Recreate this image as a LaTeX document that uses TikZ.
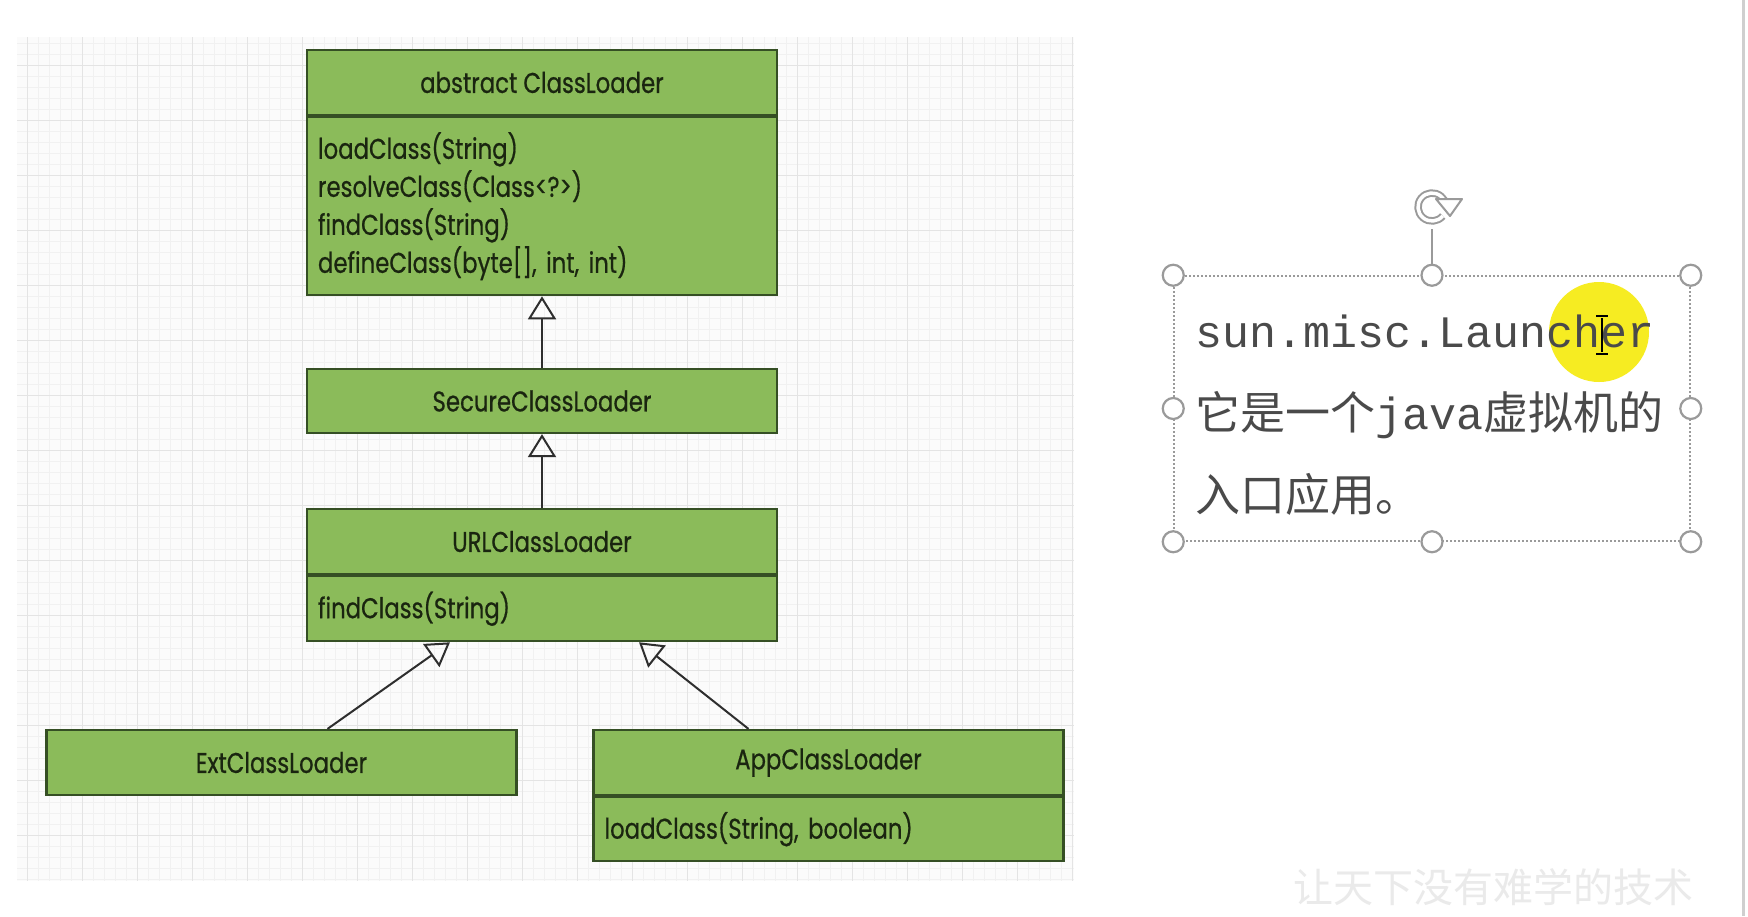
\documentclass[tikz,border=0pt]{standalone}
\usepackage{fontspec}
\usetikzlibrary{arrows.meta}

\newfontfamily\umlfont[FakeStretch=0.8, FakeBold=0.6]{Poppins}
\newfontfamily\lnchfont{Liberation Mono}
\newfontfamily\cjk{Noto Sans CJK SC}

\definecolor{umlgreen}{HTML}{8BBB5A}
\definecolor{umlline}{HTML}{354F24}
\definecolor{umltext}{HTML}{1A2510}
\definecolor{arrowgray}{HTML}{2E2E2E}
\definecolor{gridbg}{HTML}{FBFBFB}
\definecolor{gridminor}{HTML}{F1F1F1}
\definecolor{gridmajor}{HTML}{E4E4E4}
\definecolor{handlegray}{HTML}{9A9A9A}
\definecolor{hlyellow}{HTML}{F6EC22}
\definecolor{lnchtext}{HTML}{4A4A4A}
\definecolor{wmgray}{HTML}{EAEAEA}
\definecolor{edgegray}{HTML}{CFCFCF}

\begin{document}
\begin{tikzpicture}[x=1pt, y=-1pt,
  classbox/.style={draw=umlline, fill=umlgreen, line width=2.2pt, minimum width=470pt,
    minimum height=65pt, inner sep=0pt, text=umltext, font=\umlfont\fontsize{28.5}{38}\selectfont},
  members/.style={classbox, align=left, text width=448pt},
  inherit/.style={draw=arrowgray, line width=2pt, -{Triangle[open, length=23pt, width=28pt]}},
  handle/.style={circle, draw=handlegray, fill=white, line width=2.2pt, minimum size=21pt, inner sep=0pt}]

  \useasboundingbox (0,0) rectangle (1748,916);
  \fill[white] (0,0) rectangle (1748,916);

  % grid paper
  \fill[gridbg] (17,37) rectangle (1074,881);
  \begin{scope}
    \clip (17,37) rectangle (1074,881);
    \foreach \x in {16,27,...,1080} \draw[gridminor, line width=0.8pt] (\x,37) -- (\x,881);
    \foreach \y in {43,54,...,890} \draw[gridminor, line width=0.8pt] (17,\y) -- (1074,\y);
    \foreach \x in {27,82,...,1080} \draw[gridmajor, line width=1pt] (\x,37) -- (\x,881);
    \foreach \y in {65,120,...,890} \draw[gridmajor, line width=1pt] (17,\y) -- (1074,\y);
  \end{scope}

  % classes
  \node[classbox] (clhead) at (542,82.5) {abstract ClassLoader};
  \node[members, minimum height=178pt, anchor=north] (clbody) at (clhead.south)
    {loadClass(String)\\resolveClass(Class<?>)\\findClass(String)\\defineClass(byte[], int, int)};
  \node[classbox, minimum height=64pt] (secure) at (542,401) {SecureClassLoader};
  \node[classbox] (urlhead) at (542,541.5) {URLClassLoader};
  \node[members, anchor=north] (urlbody) at (urlhead.south) {findClass(String)};
  \node[classbox] (ext) at (281.5,762.5) {ExtClassLoader};
  \node[classbox] (apphead) at (828.5,762.5) {AppClassLoader};
  \node[members, minimum height=64pt, anchor=north] (appbody) at (apphead.south) {loadClass(String, boolean)};

  \draw[inherit] (secure.north) -- (clbody.south);
  \draw[inherit] (urlhead.north) -- (secure.south);
  \draw[inherit] ([xshift=46pt]ext.north) -- ([xshift=-92pt]urlbody.south);
  \draw[inherit] ([xshift=-80pt]apphead.north) -- ([xshift=97pt]urlbody.south);

  % text box with its handles
  \fill[hlyellow] (1599,332) circle[radius=50pt];
  \node[draw=handlegray, line width=1.5pt, dash pattern=on 2pt off 2pt,
    minimum width=516pt, minimum height=265pt] (tbox) at (1432,408.5) {};
  \node[anchor=base west, font=\lnchfont\fontsize{45}{45}\selectfont, text=lnchtext, inner sep=0pt]
    (line1) at (1195,347) {sun.misc.Launcher};
  \node[anchor=base west, font=\fontsize{45}{45}\selectfont, text=lnchtext, inner sep=0pt]
    (line2) at (1195,429) {{\cjk 它是一个}{\lnchfont java}{\cjk 虚拟机的}};
  \node[anchor=base west, font=\cjk\fontsize{45}{45}\selectfont, text=lnchtext, inner sep=0pt]
    (line3) at (1195,511) {入口应用。};
  \draw[black, line width=2pt] (1602,318) -- (1602,352);
  \draw[black, line width=1.5pt] (1596,316) -- (1608,316) (1596,354) -- (1608,354);

  % rotation handle
  \coordinate (rot) at (1432,207);
  \coordinate (rotfoot) at (1432,229);
  \draw[handlegray, line width=1.8pt] (tbox.north) -- (rotfoot);
  \draw[handlegray, line width=7.5pt] (rot) ++(40:14) arc[start angle=40, end angle=345, radius=14];
  \draw[white, line width=3.5pt] (rot) ++(40:14) arc[start angle=40, end angle=345, radius=14];
  \filldraw[fill=white, draw=handlegray, line width=2pt, line join=round]
    (1436,199) -- (1462,199) -- (1450,216) -- cycle;
  \foreach \a in {north west,north,north east,west,east,south west,south,south east}
    \node[handle] at (tbox.\a) {};

  % watermark and window edge
  \node[anchor=west, font=\cjk\fontsize{40}{40}\selectfont, text=wmgray, inner sep=0pt]
    (wm) at (1293,887) {让天下没有难学的技术};
  \draw[edgegray, line width=3pt] (1743,0) -- (1743,916);
\end{tikzpicture}
\end{document}
